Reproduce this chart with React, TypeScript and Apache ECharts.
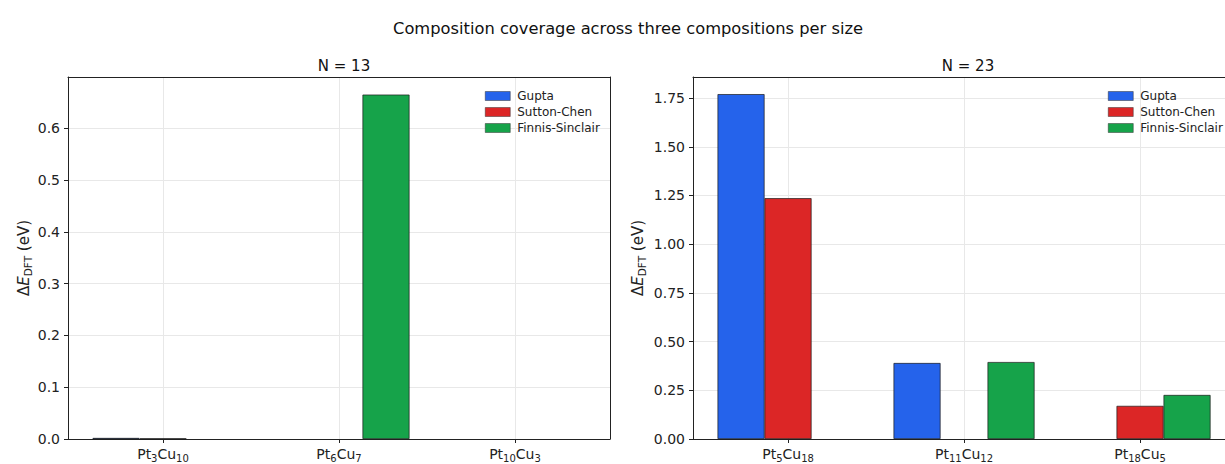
import React, { useEffect, useRef } from 'react';
import * as echarts from 'echarts';

const seriesNames = ['Gupta', 'Sutton-Chen', 'Finnis-Sinclair'];
const seriesColors = ['#2563eb', '#dc2626', '#16a34a'];

const cats13 = ['Pt3Cu10', 'Pt6Cu7', 'Pt10Cu3'];
const gupta13 = [0.002, 0, 0];
const sutton13 = [0.001, 0, 0];
const finnis13 = [0, 0.665, 0];

const cats23 = ['Pt5Cu18', 'Pt11Cu12', 'Pt18Cu5'];
const gupta23 = [1.77, 0.39, 0];
const sutton23 = [1.236, 0, 0.17];
const finnis23 = [0, 0.395, 0.226];

const yTicks13 = { min: 0, max: 0.699, interval: 0.1, digits: 1 };
const yTicks23 = { min: 0, max: 1.858, interval: 0.25, digits: 2 };

const mainTitle = 'Composition coverage across three compositions per size';
const subTitles = ['N = 13', 'N = 23'];

const FONT = 'DejaVu Sans';
const GRID_COLOR = '#e8e8e8';
const TXT = '#222';

export default function App() {
  const ref = useRef<HTMLDivElement>(null);
  useEffect(() => {
    document.body.style.margin = '0';
    if (!ref.current) return;
    const chart = echarts.init(ref.current, undefined, { renderer: 'svg' });

    // right panel is cut off by the canvas edge
    const grids = [
      { left: 68, top: 77, width: 542, height: 362 },
      { left: 693, top: 77, right: 0, height: 362 },
    ];
    const xRanges = [
      { min: -0.54, max: 2.54 },
      { min: -0.54, max: -0.54 + (1225 - 693) / 176 },
    ];
    const catsList = [cats13, cats23];
    const dataList = [
      [gupta13, sutton13, finnis13],
      [gupta23, sutton23, finnis23],
    ];
    const yList = [yTicks13, yTicks23];

    const catFmt = (cats: string[]) => (v: number) => {
      const c = cats[Math.round(v)];
      if (c === undefined) return '';
      return c.replace(/(\d+)/g, '{s|$1}');
    };

    const frameLine = { show: true, onZero: false, lineStyle: { color: TXT, width: 1 } };

    const xAxes: any[] = grids.map((_, i) => ({
      type: 'value',
      gridIndex: i,
      min: xRanges[i].min,
      max: xRanges[i].max,
      axisLine: frameLine,
      splitLine: { show: false },
      axisTick: { show: true, customValues: [0, 1, 2], length: 4, lineStyle: { color: TXT } },
      axisLabel: {
        show: true,
        customValues: [0, 1, 2],
        formatter: catFmt(catsList[i]),
        margin: 6,
        fontSize: 14,
        fontFamily: FONT,
        color: TXT,
        lineHeight: 18,
        rich: {
          s: { fontSize: 10, fontFamily: FONT, color: TXT, lineHeight: 11, verticalAlign: 'bottom' },
        },
      },
    }));
    // top frame lines
    grids.forEach((_, i) => {
      xAxes.push({
        type: 'value',
        gridIndex: i,
        position: 'top',
        min: xRanges[i].min,
        max: xRanges[i].max,
        axisLine: frameLine,
        axisTick: { show: false },
        axisLabel: { show: false },
        splitLine: { show: false },
      });
    });

    const yAxes: any[] = grids.map((_, i) => ({
      type: 'value',
      gridIndex: i,
      min: yList[i].min,
      max: yList[i].max,
      interval: yList[i].interval,
      axisLine: frameLine,
      axisTick: { show: true, length: 4, lineStyle: { color: TXT } },
      splitLine: { show: true, lineStyle: { color: GRID_COLOR, width: 1 } },
      axisLabel: {
        fontSize: 14,
        fontFamily: FONT,
        color: TXT,
        margin: 8,
        showMaxLabel: false,
        formatter: (v: number) => v.toFixed(yList[i].digits),
      },
      name: '{a|Δ}{e|E}{s|DFT}{a| (eV)}',
      nameLocation: 'middle',
      nameRotate: 90,
      nameGap: i === 0 ? 35 : 46,
      nameTextStyle: {
        rich: {
          a: { fontSize: 15, fontFamily: FONT, color: TXT, lineHeight: 18 },
          e: { fontSize: 15, fontFamily: FONT, color: TXT, fontStyle: 'italic', lineHeight: 18 },
          s: { fontSize: 10.5, fontFamily: FONT, color: TXT, lineHeight: 11, verticalAlign: 'bottom' },
        },
      },
    }));
    // right frame line of the left panel
    yAxes.push({
      type: 'value',
      gridIndex: 0,
      position: 'right',
      min: yList[0].min,
      max: yList[0].max,
      axisLine: frameLine,
      axisTick: { show: false },
      axisLabel: { show: false },
      splitLine: { show: false },
    });

    const series: any[] = [];
    grids.forEach((_, g) => {
      series.push({
        type: 'line',
        name: '',
        xAxisIndex: g,
        yAxisIndex: g,
        data: [],
        z: 0,
        silent: true,
        markLine: {
          silent: true,
          z: 0,
          symbol: ['none', 'none'],
          label: { show: false },
          lineStyle: { color: GRID_COLOR, width: 1, type: 'solid' },
          data: [{ xAxis: 0 }, { xAxis: 1 }, { xAxis: 2 }],
        },
      });
      seriesNames.forEach((name, s) => {
        series.push({
          type: 'bar',
          name,
          xAxisIndex: g,
          yAxisIndex: g,
          barWidth: 47,
          barGap: '0%',
          z: 3,
          itemStyle: { color: seriesColors[s], borderColor: '#1a1a1a', borderWidth: 0.7 },
          data: dataList[g][s].map((v, k) => [k, v === 0 ? '-' : v]),
        });
      });
    });

    const legends = [480, 1103].map((left) => ({
      orient: 'vertical',
      left,
      top: 85,
      icon: 'rect',
      itemWidth: 25,
      itemHeight: 9,
      itemGap: 4,
      data: seriesNames,
      itemStyle: { borderWidth: 0.5, borderColor: '#333' },
      textStyle: { fontSize: 12, fontFamily: FONT, color: TXT, padding: [0, 0, 0, 2] },
      selectedMode: false,
    }));

    chart.setOption({
      animation: false,
      textStyle: { fontFamily: FONT },
      title: [
        { text: mainTitle, left: 623, top: 15, textAlign: 'center', textStyle: { fontSize: 16.3, fontWeight: 'normal', fontFamily: FONT, color: '#111' } },
        { text: subTitles[0], left: 339, top: 53, textAlign: 'center', textStyle: { fontSize: 15, fontWeight: 'normal', fontFamily: FONT, color: '#111' } },
        { text: subTitles[1], left: 963, top: 53, textAlign: 'center', textStyle: { fontSize: 15, fontWeight: 'normal', fontFamily: FONT, color: '#111' } },
      ],
      legend: legends,
      grid: grids.map((gr) => ({ ...gr, show: false, containLabel: false })),
      xAxis: xAxes,
      yAxis: yAxes,
      series,
    });
    return () => chart.dispose();
  }, []);
  return <div ref={ref} style={{ width: 1225, height: 464 }} />;
}
